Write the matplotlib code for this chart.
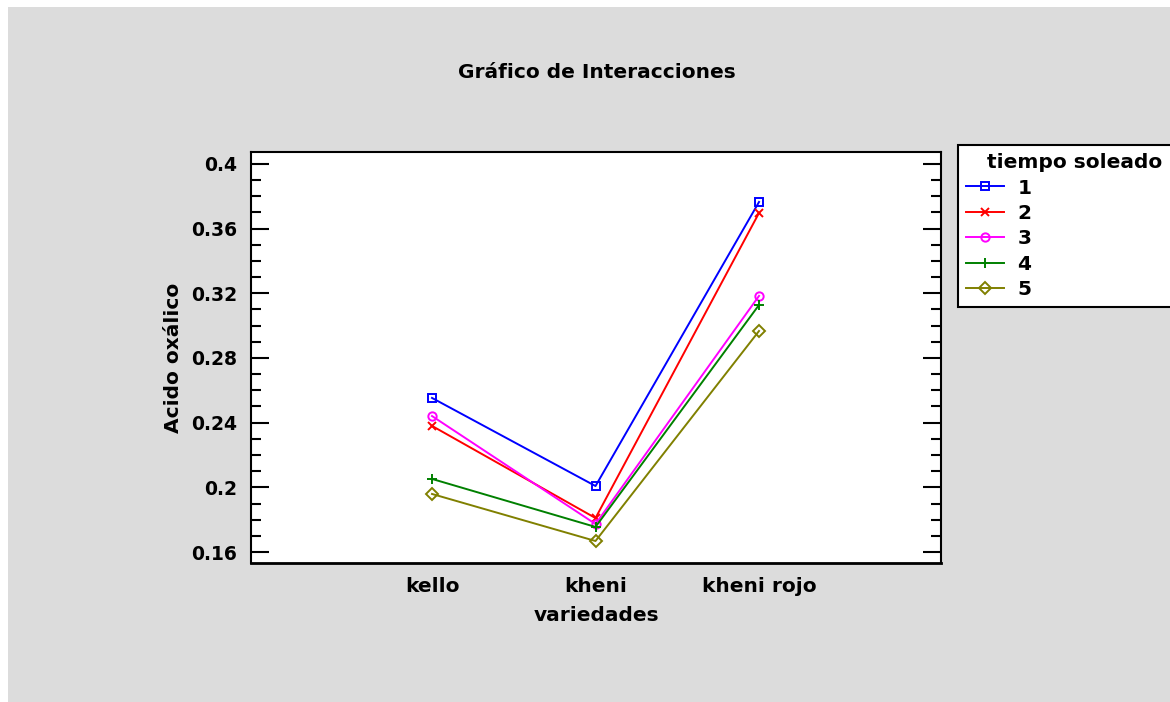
import matplotlib.pyplot as plt
from matplotlib.patches import Rectangle
import numpy as np

varieties = ['kello', 'kheni', 'kheni rojo']
groups = ['1', '2', '3', '4', '5']
acid_1 = [0.2553, 0.2008, 0.3765]
acid_2 = [0.2380, 0.1810, 0.3697]
acid_3 = [0.2441, 0.1773, 0.3184]
acid_4 = [0.2052, 0.1755, 0.3128]
acid_5 = [0.1959, 0.1668, 0.2967]
series = [acid_1, acid_2, acid_3, acid_4, acid_5]

colors = ['#0000ff', '#ff0000', '#ff00ff', '#008000', '#808000']
markers = ['s', 'x', 'o', '+', 'D']
msizes = [6, 6, 6, 7, 6]

plt.rcParams['font.family'] = ['DejaVu Sans']
plt.rcParams['font.weight'] = 'bold'

fig = plt.figure(figsize=(11.7, 7.02), dpi=100, facecolor='white')
# gray panel, leaving a thin white strip top and left
fig.patches.append(Rectangle((8 / 1170, 0), 1, 1 - 7 / 702, transform=fig.transFigure,
                             facecolor='#dcdcdc', edgecolor='none', zorder=-10))

ax = fig.add_axes([251 / 1170, 1 - 563 / 702, 690 / 1170, 411 / 702])
ax.set_facecolor('white')

x = np.arange(len(varieties))
for vals, c, m, ms, g in zip(series, colors, markers, msizes, groups):
    ax.plot(x, vals, color=c, lw=1.4, marker=m, ms=ms, mfc='none', mec=c, mew=1.4, label=g)

ax.set_xlim(-1.107, 3.113)
ax.set_ylim(0.1532, 0.4074)
ax.set_xticks(x)
ax.set_xticklabels(varieties, fontsize=14.5, fontweight='bold')
ax.tick_params(axis='x', length=0, pad=10)
yt = [0.16, 0.2, 0.24, 0.28, 0.32, 0.36, 0.4]
ax.set_yticks(yt)
ax.set_yticklabels(['0.16', '0.2', '0.24', '0.28', '0.32', '0.36', '0.4'], fontsize=13.5, fontweight='bold')
ax.set_yticks(np.arange(0.16, 0.4001, 0.01), minor=True)
ax.tick_params(axis='y', which='major', direction='in', length=13, width=1.5, right=True, pad=10)
ax.tick_params(axis='y', which='minor', direction='in', length=7, width=1.5, right=True)
for s in ax.spines.values():
    s.set_linewidth(1.5)
ax.spines['bottom'].set_linewidth(2)

ax.set_xlabel('variedades', fontsize=14.5, fontweight='bold', labelpad=7)
ax.set_ylabel('Acido oxálico', fontsize=14.5, fontweight='bold', labelpad=6)
fig.text(597 / 1170, 1 - 73 / 702, 'Gráfico de Interacciones', ha='center', va='center',
         fontsize=14.5, fontweight='bold')

leg = fig.legend(loc='upper left', bbox_to_anchor=(958 / 1170, 1 - 152 / 702, 234 / 1170, 7 / 702),
                 mode='expand', title='tiempo soleado', fontsize=14.5, title_fontsize=14.5,
                 frameon=True, fancybox=False, edgecolor='black', facecolor='white',
                 framealpha=1, handlelength=1.9, handletextpad=0.65, labelspacing=0.32,
                 borderpad=0.4, borderaxespad=0)
leg.get_frame().set_linewidth(1.5)
leg.get_title().set_fontweight('bold')

fig.savefig('out.png', dpi=100, facecolor=fig.get_facecolor())
